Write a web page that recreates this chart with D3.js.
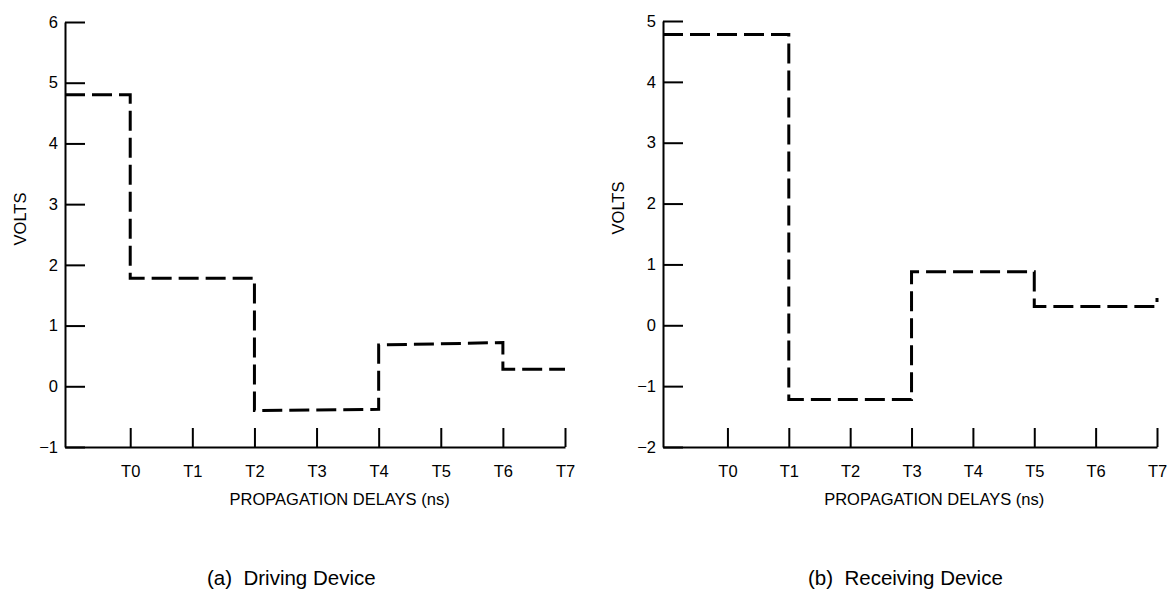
<!DOCTYPE html>
<html>
<head>
<meta charset="utf-8">
<script src="https://cdn.jsdelivr.net/npm/d3@7"></script>
<style>
  body { margin: 0; background: #fff; }
  svg { display: block; }
  .axis path, .axis line { stroke: #000; stroke-width: 2; }
  .axis text { font-family: "Liberation Sans Narrow", "Arial Narrow", "Liberation Sans", sans-serif; font-size: 16.5px; fill: #000; }
  .label { font-family: "Liberation Sans Narrow", "Arial Narrow", "Liberation Sans", sans-serif; font-size: 16.5px; fill: #000; }
  .caption { font-family: "Liberation Sans", Arial, sans-serif; font-size: 20.5px; fill: #000; white-space: pre; }
</style>
</head>
<body>
<svg id="chart"></svg>
<script>
// Canvas size
const width = 1175;
const height = 593;

// Tick labels along the delay axis
const delayLabels = ["T0", "T1", "T2", "T3", "T4", "T5", "T6", "T7"];
const delayTicks = [0, 1, 2, 3, 4, 5, 6, 7];

// Volt ticks for each panel
const voltTicksA = [-1, 0, 1, 2, 3, 4, 5, 6];
const voltTicksB = [-2, -1, 0, 1, 2, 3, 4, 5];

// Step waveforms: [delay index, volts]
// (-1.05 is the y axis position, left of T0)
const drivingDelay = [-1.05, 0, 0, 2, 2, 4, 4, 6, 6, 7];
const drivingVolts = [4.8, 4.8, 1.78, 1.78, -0.4, -0.38, 0.68, 0.72, 0.28, 0.28];

const receivingDelay = [-1.05, 1, 1, 3, 3, 5, 5, 7, 7];
const receivingVolts = [4.78, 4.78, -1.22, -1.22, 0.88, 0.88, 0.31, 0.31, 0.45];

const captions = ["(a)  Driving Device", "(b)  Receiving Device"];

const svg = d3.select("#chart")
    .attr("width", width)
    .attr("height", height);

const panels = [
    { x0: 65, x1: 565, yTop: 22, yBottom: 447, ticks: voltTicksA, voltsY: 219,
      delay: drivingDelay, volts: drivingVolts, caption: captions[0], capX: 207 },
    { x0: 663, x1: 1157, yTop: 21, yBottom: 447, ticks: voltTicksB, voltsY: 208,
      delay: receivingDelay, volts: receivingVolts, caption: captions[1], capX: 808 }
];

panels.forEach(p => {
    const x = d3.scaleLinear().domain([-1.05, 7]).range([p.x0, p.x1]);
    const y = d3.scaleLinear()
        .domain([d3.min(p.ticks), d3.max(p.ticks)])
        .range([p.yBottom, p.yTop]);

    const g = svg.append("g");

    // y axis, ticks pointing into the plot
    g.append("g")
        .attr("class", "axis")
        .attr("transform", `translate(${p.x0},0)`)
        .call(d3.axisLeft(y).tickValues(p.ticks).tickSizeInner(-20).tickSizeOuter(0).tickPadding(7)
            .tickFormat(d => d < 0 ? "\u2212" + Math.abs(d) : d));

    // x axis, ticks pointing up
    g.append("g")
        .attr("class", "axis")
        .attr("transform", `translate(0,${p.yBottom})`)
        .call(d3.axisBottom(x).tickValues(delayTicks).tickSizeInner(-19).tickSizeOuter(0).tickPadding(18)
            .tickFormat((d, i) => delayLabels[i]));

    // step waveform
    const line = d3.line()
        .x((d, i) => x(p.delay[i]))
        .y(d => y(d));

    g.append("path")
        .attr("d", line(p.volts))
        .attr("fill", "none")
        .attr("stroke", "#000")
        .attr("stroke-width", 3)
        .attr("stroke-dasharray", "20,7");

    // axis titles
    g.append("text")
        .attr("class", "label")
        .attr("transform", `translate(${p.x0 - 45},${p.voltsY}) rotate(-90)`)
        .attr("text-anchor", "middle")
        .attr("dy", "0.35em")
        .text("VOLTS");

    g.append("text")
        .attr("class", "label")
        .attr("x", (x(0) + x(7)) / 2 - 8)
        .attr("y", 505)
        .attr("text-anchor", "middle")
        .text("PROPAGATION DELAYS (ns)");

    g.append("text")
        .attr("class", "caption")
        .attr("x", p.capX)
        .attr("y", 585)
        .text(p.caption);
});
</script>
</body>
</html>
